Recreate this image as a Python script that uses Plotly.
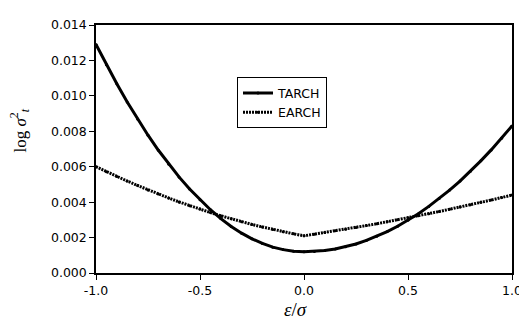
import plotly.graph_objects as go

x_vals = [-1.00, -0.95, -0.90, -0.85, -0.80, -0.75, -0.70, -0.65, -0.60, -0.55,
          -0.50, -0.45, -0.40, -0.35, -0.30, -0.25, -0.20, -0.15, -0.10, -0.05,
          0.00, 0.05, 0.10, 0.15, 0.20, 0.25, 0.30, 0.35, 0.40, 0.45,
          0.50, 0.55, 0.60, 0.65, 0.70, 0.75, 0.80, 0.85, 0.90, 0.95, 1.00]

tarch = [0.01290, 0.01176, 0.01068, 0.00965, 0.00869, 0.00778, 0.00693, 0.00614, 0.00541, 0.00474,
         0.00413, 0.00357, 0.00307, 0.00263, 0.00225, 0.00193, 0.00167, 0.00146, 0.00132, 0.00123,
         0.00120, 0.00122, 0.00127, 0.00136, 0.00148, 0.00164, 0.00184, 0.00207, 0.00234, 0.00264,
         0.00298, 0.00335, 0.00376, 0.00420, 0.00468, 0.00519, 0.00574, 0.00633, 0.00695, 0.00761, 0.00830]

earch = [0.00600, 0.00572, 0.00545, 0.00519, 0.00494, 0.00469, 0.00446, 0.00423, 0.00401, 0.00380,
         0.00361, 0.00341, 0.00323, 0.00306, 0.00290, 0.00274, 0.00260, 0.00246, 0.00233, 0.00221,
         0.00210, 0.00219, 0.00228, 0.00238, 0.00247, 0.00257, 0.00268, 0.00278, 0.00289, 0.00300,
         0.00312, 0.00323, 0.00335, 0.00347, 0.00360, 0.00372, 0.00385, 0.00399, 0.00412, 0.00426, 0.00440]

y_ticks = [0.000, 0.002, 0.004, 0.006, 0.008, 0.010, 0.012, 0.014]
y_tick_labels = ["0.000", "0.002", "0.004", "0.006", "0.008", "0.010", "0.012", "0.014"]
x_ticks = [-1.0, -0.5, 0.0, 0.5, 1.0]
x_tick_labels = ["-1.0", "-0.5", "0.0", "0.5", "1.0"]

# page body has an 8px default margin; plot area on screen: x 96..512, y 17..273
OFF = 8
PL, PR, PT, PB = 96, 512, 17, 273
W, H = 527, 320


def px(sx):
    return (sx - PL) / (PR - PL)


def py(sy):
    return 1 - (sy - PT) / (PB - PT)


fig = go.Figure()
fig.add_trace(go.Scatter(
    x=x_vals, y=tarch, name="TARCH", mode="lines+markers",
    line=dict(color="black", width=3),
    marker=dict(color="black", size=3, symbol="circle"),
))
fig.add_trace(go.Scatter(
    x=x_vals, y=earch, name="EARCH", mode="lines+markers",
    line=dict(color="black", width=3, dash="2px,1px"),
    marker=dict(color="black", size=3, symbol="circle"),
))

tick_font = dict(family="DejaVu Sans, Arial, sans-serif", size=12.5, color="black")
axis_common = dict(
    showline=True, linecolor="black", linewidth=1.5, mirror=True,
    ticks="outside", ticklen=5, tickcolor="black", tickwidth=1.2,
    showgrid=False, zeroline=False, tickfont=tick_font,
)

fig.update_layout(
    width=W, height=H,
    paper_bgcolor="white", plot_bgcolor="white",
    margin=dict(l=PL - OFF, r=W - (PR - OFF), t=PT - OFF, b=H - (PB - OFF)),
    showlegend=True,
    legend=dict(
        x=px(237), y=py(71), xanchor="left", yanchor="top",
        bordercolor="black", borderwidth=1, bgcolor="white",
        font=dict(family="DejaVu Sans, Arial, sans-serif", size=12.5, color="black"),
        tracegroupgap=0, itemwidth=30,
    ),
    xaxis=dict(range=[-1, 1], tickvals=x_ticks, ticktext=x_tick_labels, **axis_common),
    yaxis=dict(range=[0, 0.014], tickvals=y_ticks, ticktext=y_tick_labels, **axis_common),
    annotations=[
        dict(text="log <i>σ</i><sup>2</sup><sub><i>t</i></sub>", textangle=-90,
             xref="paper", yref="paper", x=px(20), y=py(126),
             showarrow=False, xanchor="center", yanchor="middle",
             font=dict(family="Liberation Serif, Times New Roman, serif", size=17, color="black")),
        dict(text="<i>ε</i>/<i>σ</i>", xref="paper", yref="paper",
             x=px(295), y=py(311), showarrow=False, xanchor="center", yanchor="middle",
             font=dict(family="Liberation Serif, Times New Roman, serif", size=19, color="black")),
    ],
)

fig.write_html("out.html")
